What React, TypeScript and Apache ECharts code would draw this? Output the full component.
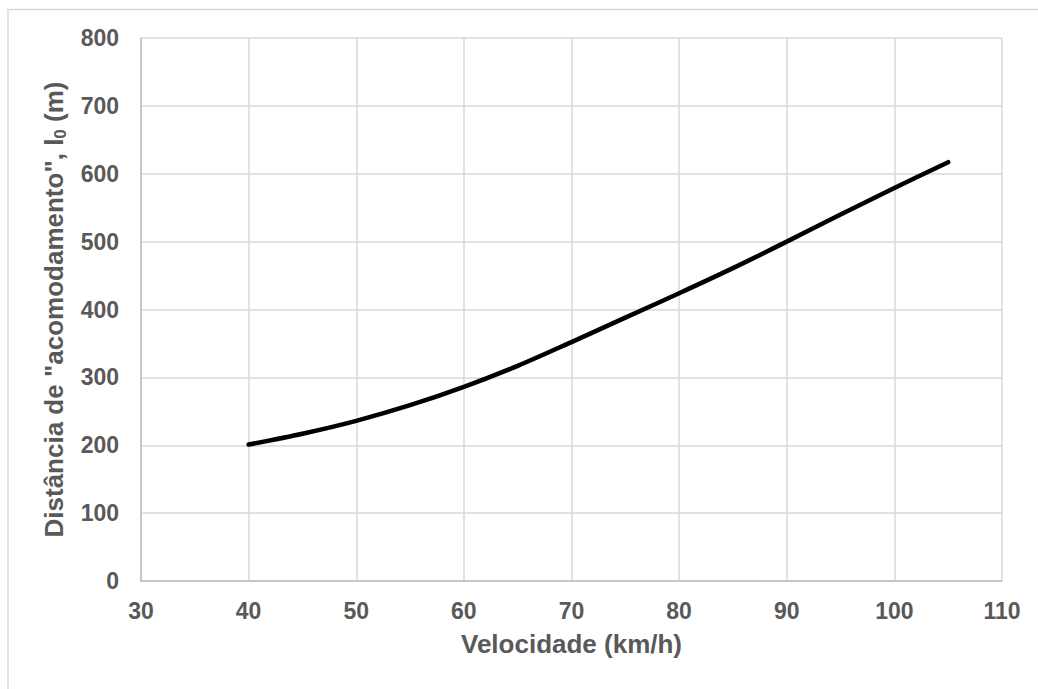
import React, { useEffect, useRef } from "react";
import * as echarts from "echarts";

const speeds = [40, 45, 50, 55, 60, 65, 70, 75, 80, 85, 90, 95, 100, 105];
const distances = [201, 217, 236, 259, 286, 317, 352, 388, 424, 461, 500, 540, 579, 617];
const xTitle = "Velocidade (km/h)";
const yTitleMain = 'Distância de "acomodamento", l';
const yTitleSub = "0";
const yTitleEnd = " (m)";

export default function App() {
  const ref = useRef<HTMLDivElement>(null);
  useEffect(() => {
    if (!ref.current) return;
    const chart = echarts.init(ref.current, null, { renderer: "svg" });
    const font = "'Liberation Sans', Arial, sans-serif";
    const gray = "#595959";
    chart.setOption({
      animation: false,
      backgroundColor: "#ffffff",
      textStyle: { fontFamily: font },
      grid: { left: 141, top: 38, right: 36, bottom: 108, containLabel: false },
      graphic: [
        {
          type: "rect",
          shape: { x: 8, y: 9.5, width: 1100, height: 800 },
          style: { fill: "none", stroke: "#d9d9d9", lineWidth: 1.5 },
          silent: true,
          z: -10,
        },
      ],
      xAxis: {
        type: "value",
        min: 30,
        max: 110,
        interval: 10,
        name: xTitle,
        nameLocation: "middle",
        nameGap: 50,
        nameTextStyle: { fontSize: 26, fontWeight: "bold", color: gray, fontFamily: font },
        axisLine: { show: true, lineStyle: { color: "#bfbfbf", width: 1.5 } },
        axisTick: { show: false },
        axisLabel: { fontSize: 23, fontWeight: "bold", color: gray, margin: 18, fontFamily: font },
        splitLine: { show: true, lineStyle: { color: "#d9d9d9", width: 1.5 } },
      },
      yAxis: {
        type: "value",
        min: 0,
        max: 800,
        interval: 100,
        name: "{a|" + yTitleMain + "}{s|" + yTitleSub + "}{a|" + yTitleEnd + "}",
        nameLocation: "middle",
        nameGap: 72,
        nameRotate: 90,
        nameTextStyle: {
          color: gray,
          fontFamily: font,
          rich: {
            a: { fontSize: 26, fontWeight: "bold", color: gray, fontFamily: font, lineHeight: 30 },
            s: { fontSize: 17, fontWeight: "bold", color: gray, fontFamily: font, verticalAlign: "bottom", lineHeight: 30, padding: [10, 0, 0, 0] },
          },
        },
        axisLine: { show: true, lineStyle: { color: "#bfbfbf", width: 1.5 } },
        axisTick: { show: false },
        axisLabel: { fontSize: 23, fontWeight: "bold", color: gray, margin: 22, fontFamily: font },
        splitLine: { show: true, lineStyle: { color: "#d9d9d9", width: 1.5 } },
      },
      series: [
        {
          type: "line",
          data: speeds.map((s, i) => [s, distances[i]]),
          smooth: 0.3,
          showSymbol: false,
          lineStyle: { color: "#000000", width: 4.5, cap: "round", join: "round" },
          z: 5,
        },
      ],
    });
    return () => chart.dispose();
  }, []);
  return (
    <div
      ref={ref}
      style={{ position: "fixed", left: 0, top: 0, width: 1038, height: 689, background: "#fff" }}
    />
  );
}
